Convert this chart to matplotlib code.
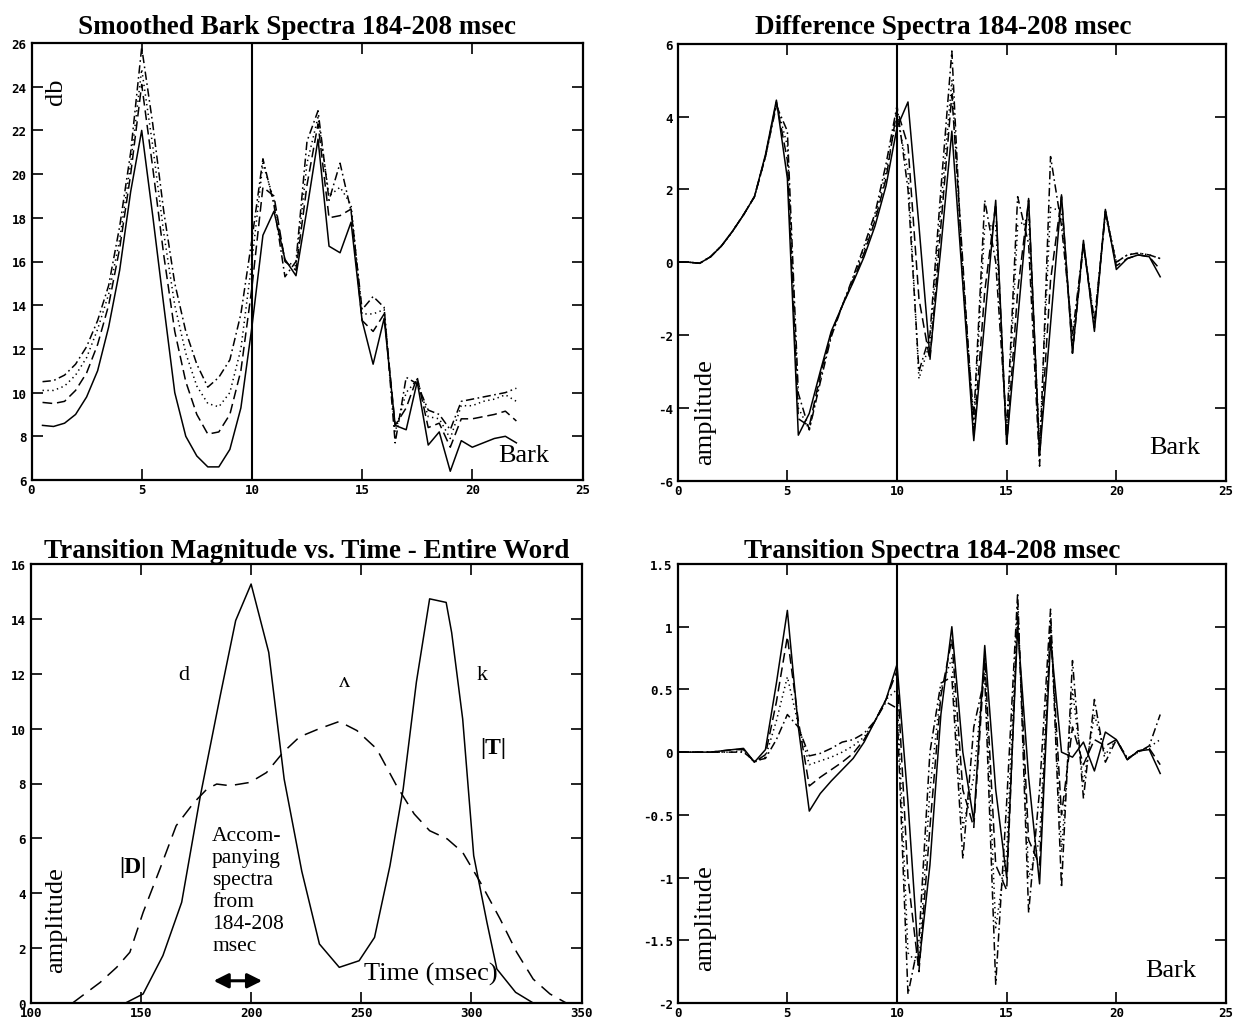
import matplotlib
matplotlib.use("Agg")
import matplotlib.pyplot as plt
from matplotlib.ticker import FixedLocator, FuncFormatter

plt.rcParams['font.family'] = ['DejaVu Sans Mono']
plt.rcParams['font.weight'] = 'bold'
plt.rcParams['axes.unicode_minus'] = False
plt.rcParams['lines.scale_dashes'] = False

# ---------------- data ----------------
bark_a = [0.5, 1, 1.5, 2, 2.5, 3, 3.5, 4, 4.5, 5, 5.5, 6, 6.5, 7, 7.5, 8, 8.5, 9, 9.5, 10,
          10.5, 11, 11.5, 12, 12.5, 13, 13.5, 14, 14.5, 15, 15.5, 16, 16.5, 17, 17.5, 18,
          18.5, 19, 19.5, 20, 20.5, 21, 21.5, 22]
bark_b = [0] + bark_a

# Smoothed Bark spectra (db)
smooth_solid = [8.5, 8.45, 8.6, 9.0, 9.8, 11.0, 13.0, 15.6, 19.2, 22.0, 18.1, 14.0, 10.0, 8.0, 7.1, 6.6,
                6.6, 7.4, 9.3, 13.0, 17.2, 18.3, 16.1, 15.35, 18.4, 21.6, 16.7, 16.4, 17.8, 13.3, 11.3,
                13.4, 8.5, 8.3, 10.5, 7.6, 8.2, 6.4, 7.8, 7.5, 7.7, 7.9, 8.0, 7.7]
smooth_dashed = [9.55, 9.5, 9.6, 10.1, 10.9, 12.2, 14.0, 16.6, 20.0, 24.1, 20.3, 16.3, 12.8, 10.5, 9.0,
                 8.1, 8.2, 9.0, 11.0, 14.8, 19.4, 19.0, 16.0, 15.6, 19.5, 22.3, 18.0, 18.1, 18.4, 13.3,
                 12.8, 13.6, 8.5, 9.3, 10.7, 8.4, 8.6, 7.5, 8.8, 8.8, 8.9, 9.0, 9.15, 8.7]
smooth_dotted = [10.1, 10.1, 10.3, 10.8, 11.6, 12.9, 14.5, 17.0, 20.5, 24.8, 21.3, 17.3, 14.0, 11.8, 10.3,
                 9.5, 9.35, 10.0, 12.0, 16.0, 20.5, 18.8, 16.0, 15.8, 20.5, 22.6, 19.0, 19.4, 18.6, 13.6,
                 13.6, 13.8, 8.2, 10.0, 10.6, 8.9, 8.8, 7.9, 9.4, 9.4, 9.6, 9.7, 9.9, 9.6]
smooth_dashdot = [10.5, 10.55, 10.8, 11.3, 12.1, 13.3, 14.9, 17.6, 21.0, 25.8, 22.3, 18.3, 15.0, 12.8, 11.3,
                  10.25, 10.7, 11.5, 13.6, 17.0, 20.7, 18.6, 15.3, 16.0, 21.5, 22.9, 18.8, 20.5, 18.3, 13.8,
                  14.4, 13.9, 7.7, 10.7, 10.4, 9.2, 9.0, 8.3, 9.6, 9.7, 9.8, 9.9, 10.0, 10.2]

# Difference spectra (amplitude)
diff_solid = [0, 0, -0.03, 0.15, 0.45, 0.85, 1.3, 1.8, 2.95, 4.45, 2.3, -4.75, -4.15, -3.0, -1.9, -1.2,
              -0.55, 0.15, 1.0, 2.1, 3.7, 4.4, 1.0, -2.6, 0.4, 3.6, -0.6, -4.9, -1.6, 1.7, -5.0, -1.6,
              1.75, -5.3, -1.7, 1.85, -2.5, 0.6, -1.9, 1.45, -0.2, 0.1, 0.2, 0.15, -0.4]
diff_dashed = [0, 0, -0.03, 0.15, 0.45, 0.85, 1.3, 1.8, 2.9, 4.4, 2.8, -4.3, -4.5, -3.1, -1.95, -1.2,
               -0.5, 0.25, 1.15, 2.3, 4.2, 3.2, -1.0, -2.7, 1.0, 4.6, 0.0, -4.8, -0.8, 1.6, -5.0, -0.8,
               1.7, -5.3, -0.5, 1.8, -2.5, 0.5, -1.8, 1.4, -0.1, 0.1, 0.2, 0.15, -0.2]
diff_dotted = [0, 0, -0.03, 0.15, 0.45, 0.85, 1.3, 1.8, 2.9, 4.35, 3.2, -4.0, -4.6, -3.2, -2.0, -1.2,
               -0.45, 0.35, 1.25, 2.5, 4.0, 2.5, -3.2, -2.2, 1.5, 5.0, -0.3, -4.5, 1.0, 1.0, -4.8, 1.0,
               1.2, -5.0, 1.5, 1.4, -2.2, 0.5, -1.7, 1.4, 0.0, 0.2, 0.25, 0.2, 0.1]
diff_dashdot = [0, 0, -0.03, 0.15, 0.45, 0.85, 1.3, 1.8, 2.9, 4.3, 3.6, -3.6, -4.6, -3.3, -2.05, -1.2,
                -0.4, 0.45, 1.35, 2.7, 4.3, 2.0, -3.0, -2.0, 2.0, 5.8, -0.5, -4.3, 1.7, 0.0, -4.6, 1.8,
                0.5, -5.6, 2.9, 1.0, -2.0, 0.5, -1.6, 1.3, 0.0, 0.2, 0.25, 0.2, 0.1]

# Transition spectra (amplitude)
trans_solid = [0, 0, 0, 0, 0.01, 0.02, 0.03, -0.08, 0.02, 0.55, 1.13, 0.2, -0.47, -0.33, -0.23, -0.14,
               -0.05, 0.08, 0.25, 0.42, 0.7, -0.4, -1.7, -0.9, 0.3, 1.0, 0.0, -0.55, 0.85, -0.3, -1.0,
               1.0, -0.2, -1.05, 0.9, 0.0, -0.04, 0.08, -0.15, 0.16, 0.1, -0.06, 0.01, 0.02, -0.17]
trans_dashed = [0, 0, 0, 0, 0.01, 0.02, 0.02, -0.08, -0.02, 0.4, 0.92, 0.25, -0.27, -0.2, -0.14, -0.08,
                -0.01, 0.1, 0.25, 0.42, 0.65, -1.0, -1.75, -0.6, 0.45, 0.9, -0.3, -0.6, 0.75, -0.9, -1.1,
                1.1, -0.7, -0.9, 1.0, -0.5, 0.2, -0.1, 0.1, 0.05, 0.1, -0.06, 0.01, 0.03, -0.1]
trans_dotted = [0, 0, 0, 0, 0.0, 0.0, 0.01, -0.08, -0.04, 0.25, 0.6, 0.22, -0.1, -0.07, -0.04, 0.0,
                0.05, 0.12, 0.25, 0.42, 0.5, -1.6, -1.7, -0.3, 0.5, 0.75, -0.6, -0.2, 0.7, -1.4, -0.8,
                1.2, -1.0, -0.7, 1.05, -0.8, 0.5, -0.25, 0.3, -0.02, 0.1, -0.05, 0.0, 0.04, 0.1]
trans_dashdot = [0, 0, 0, 0, 0.0, 0.0, 0.0, -0.07, -0.05, 0.1, 0.3, 0.2, -0.03, -0.01, 0.03, 0.08,
                 0.1, 0.15, 0.25, 0.4, 0.35, -1.93, -1.5, 0.0, 0.55, 0.6, -0.85, 0.2, 0.6, -1.85, -0.4,
                 1.27, -1.28, -0.3, 1.14, -1.08, 0.73, -0.37, 0.42, -0.08, 0.1, -0.05, 0.0, 0.05, 0.3]

# Transition magnitude vs time
t_solid = [143, 151, 160, 168.5, 177, 186, 193, 200, 208, 215, 223, 231, 240, 249, 256, 263, 269, 275,
           281, 288.5, 291, 296, 301, 307, 311.5, 320, 328]
mag_solid = [0, 0.33, 1.73, 3.67, 7.56, 11.2, 13.94, 15.27, 12.78, 8.16, 4.8, 2.15, 1.3, 1.54, 2.39, 5.0,
             7.8, 11.7, 14.73, 14.6, 13.5, 10.35, 5.37, 2.94, 1.24, 0.39, 0.0]
t_dashed = [119, 131.5, 139, 145, 151, 158.7, 166, 174, 180, 184.4, 190.4, 199.5, 207, 214.6, 222, 231,
            240, 248, 257, 266, 274, 281, 289, 296, 304, 313, 320.5, 328, 335.6, 343]
mag_dashed = [0, 0.75, 1.3, 1.85, 3.3, 4.9, 6.46, 7.3, 7.8, 7.98, 7.92, 8.04, 8.4, 9.14, 9.7, 10.0,
              10.26, 9.93, 9.26, 7.92, 6.89, 6.28, 5.98, 5.49, 4.4, 3.06, 1.85, 0.87, 0.33, 0.0]

bark_ticks = [0, 5, 10, 15, 20, 25]
db_ticks = [6, 8, 10, 12, 14, 16, 18, 20, 22, 24, 26]
diff_ticks = [-6, -4, -2, 0, 2, 4, 6]
time_ticks = [100, 150, 200, 250, 300, 350]
mag_ticks = [0, 2, 4, 6, 8, 10, 12, 14, 16]
trans_ticks = [-2, -1.5, -1, -0.5, 0, 0.5, 1, 1.5]

# ---------------- figure ----------------
W, H = 1241, 1020
fig = plt.figure(figsize=(W / 100, H / 100), dpi=100)
fig.patch.set_facecolor('white')

def box(l, t, r, b):
    return [l / W, 1 - b / H, (r - l) / W, (b - t) / H]

ax1 = fig.add_axes(box(31.5, 44, 582.5, 481))
ax2 = fig.add_axes(box(677.7, 44.7, 1226, 481.7))
ax3 = fig.add_axes(box(30.7, 565, 581.7, 1004))
ax4 = fig.add_axes(box(677.7, 565, 1226, 1004))

LW = 1.1
styles = {
    'solid': dict(linestyle='-', lw=LW),
    'dashed': dict(dashes=(7, 3.5), lw=LW),
    'dotted': dict(dashes=(1, 2.5), lw=LW),
    'dashdot': dict(dashes=(6, 2.5, 1.2, 2.5), lw=LW),
}

def style_axes(ax, xlim, ylim, xticks, yticks):
    ax.set_xlim(*xlim)
    ax.set_ylim(*ylim)
    ax.xaxis.set_major_locator(FixedLocator(xticks))
    ax.yaxis.set_major_locator(FixedLocator(yticks))
    ax.xaxis.set_major_formatter(FuncFormatter(lambda v, p: '%g' % v))
    ax.yaxis.set_major_formatter(FuncFormatter(lambda v, p: '%g' % v))
    ax.tick_params(direction='in', length=8, width=1.2, top=True, right=True,
                   labelsize=9, colors='black')
    ax.tick_params(axis='x', pad=2.5)
    ax.tick_params(axis='y', pad=3.5)
    for s in ax.spines.values():
        s.set_linewidth(1.6)
    ax.set_facecolor('white')

serif = ['Liberation Serif', 'DejaVu Serif']

# Panel 1
for y, st in [(smooth_solid, 'solid'), (smooth_dashed, 'dashed'), (smooth_dotted, 'dotted'),
              (smooth_dashdot, 'dashdot')]:
    ax1.plot(bark_a, y, color='black', **styles[st])
ax1.axvline(10, color='black', lw=1.5)
style_axes(ax1, (0, 25), (6, 26), bark_ticks, db_ticks)
ax1.text(1.1, 23.8, 'db', rotation=90, ha='center', va='center', fontsize=19, family=serif,
         weight='normal')
ax1.text(22.35, 7.14, 'Bark', ha='center', va='center', fontsize=19, family=serif, weight='normal')

# Panel 2
for y, st in [(diff_solid, 'solid'), (diff_dashed, 'dashed'), (diff_dotted, 'dotted'),
              (diff_dashdot, 'dashdot')]:
    ax2.plot(bark_b, y, color='black', **styles[st])
ax2.axvline(10, color='black', lw=1.5)
style_axes(ax2, (0, 25), (-6, 6), bark_ticks, diff_ticks)
ax2.text(1.25, -4.09, 'amplitude', rotation=90, ha='center', va='center', fontsize=19,
         family=serif, weight='normal')
ax2.text(22.68, -5.07, 'Bark', ha='center', va='center', fontsize=19, family=serif, weight='normal')

# Panel 3
ax3.plot(t_solid, mag_solid, color='black', lw=LW)
ax3.plot(t_dashed, mag_dashed, color='black', lw=LW, dashes=(10, 6))
style_axes(ax3, (100, 350), (0, 16), time_ticks, mag_ticks)
ax3.text(169.3, 11.97, 'd', ha='center', va='center', fontsize=16, family=serif, weight='normal')
ax3.text(242.2, 11.72, '\u028c', ha='center', va='center', fontsize=16, family=serif, weight='normal')
ax3.text(305.0, 11.99, 'k', ha='center', va='center', fontsize=16, family=serif, weight='normal')
ax3.text(310.0, 9.33, '|T|', ha='center', va='center', fontsize=17, family=serif, weight='bold')
ax3.text(146.2, 4.96, '|D|', ha='center', va='center', fontsize=17, family=serif, weight='bold')
ax3.text(182.3, 6.45, 'Accom-\npanying\nspectra\nfrom\n184-208\nmsec', ha='left', va='top',
         fontsize=15.5, family=serif, weight='normal', linespacing=1.22)
ax3.text(281.6, 1.06, 'Time (msec)', ha='center', va='center', fontsize=19, family=serif,
         weight='normal')
ax3.text(111.7, 3.06, 'amplitude', rotation=90, ha='center', va='center', fontsize=19,
         family=serif, weight='normal')
ax3.annotate('', xy=(205, 0.81), xytext=(183, 0.81),
             arrowprops=dict(arrowstyle='<|-|>', lw=2.2, mutation_scale=22, color='black',
                             shrinkA=0, shrinkB=0))

# Panel 4
for y, st in [(trans_solid, 'solid'), (trans_dashed, 'dashed'), (trans_dotted, 'dotted'),
              (trans_dashdot, 'dashdot')]:
    ax4.plot(bark_b, y, color='black', **styles[st])
ax4.axvline(10, color='black', lw=1.5)
style_axes(ax4, (0, 25), (-2, 1.5), bark_ticks, trans_ticks)
ax4.text(1.25, -1.315, 'amplitude', rotation=90, ha='center', va='center', fontsize=19,
         family=serif, weight='normal')
ax4.text(22.49, -1.738, 'Bark', ha='center', va='center', fontsize=19, family=serif, weight='normal')

# Titles
tkw = dict(ha='center', va='baseline', fontsize=19.5, weight='bold', family=serif)
fig.text(296.5 / W, 1 - 33.6 / H, 'Smoothed Bark Spectra 184-208 msec', **tkw)
fig.text(943.5 / W, 1 - 33.6 / H, 'Difference Spectra 184-208 msec', **tkw)
fig.text(306.7 / W, 1 - 557.6 / H, 'Transition Magnitude vs. Time - Entire Word', **tkw)
fig.text(932.5 / W, 1 - 557.6 / H, 'Transition Spectra 184-208 msec', **tkw)

fig.savefig('out.png', dpi=100, facecolor='white')
